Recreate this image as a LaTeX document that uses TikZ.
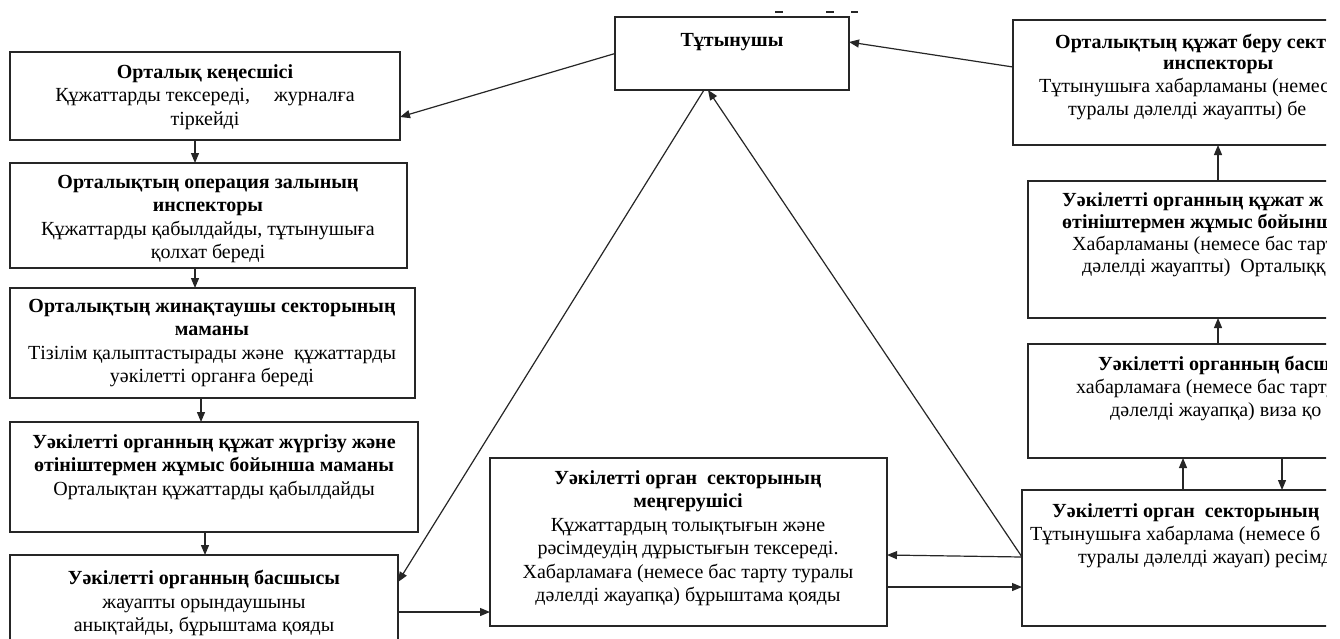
\documentclass[tikz,border=0pt]{standalone}
\usepackage{fontspec}
\setmainfont{Liberation Serif}
\usetikzlibrary{arrows.meta}
\begin{document}
\begin{tikzpicture}[x=1pt,y=-1pt,
  box/.style={draw=black!85, line width=1.5pt, inner sep=0pt, outer sep=0pt, anchor=north west},
  txt/.style={font=\fontsize{20}{23.5}\selectfont, align=center, inner sep=0pt, anchor=north},
  rtxt/.style={font=\fontsize{20}{23.5}\selectfont, inner sep=0pt, anchor=base west},
  arr/.style={draw=black!85, line width=1.2pt, -{Triangle[length=10pt,width=8pt]}},
  ln/.style={draw=black!85, line width=1.2pt}]
\useasboundingbox (0,0) rectangle (1340,638);
\fill[white] (0,0) rectangle (1340,638);
\clip (0,0) rectangle (1326,638);

% left column boxes
\node[box, minimum width=390pt, minimum height=88pt] (b1) at (10,52) {};
\node[box, minimum width=397pt, minimum height=105pt] (b2) at (10,163) {};
\node[box, minimum width=405pt, minimum height=110pt] (b3) at (10,288) {};
\node[box, minimum width=408pt, minimum height=110pt] (b4) at (10,422) {};
\node[box, minimum width=388pt, minimum height=110pt] (b5) at (10,555) {};
% top and centre
\node[box, minimum width=234pt, minimum height=73pt] (tut) at (615,17) {};
\node[box, minimum width=397pt, minimum height=168pt] (cen) at (490,458) {};
% right column
\node[box, minimum width=420pt, minimum height=125pt] (r1) at (1013,20) {};
\node[box, minimum width=420pt, minimum height=137pt] (r2) at (1028,181) {};
\node[box, minimum width=420pt, minimum height=114pt] (r3) at (1028,344) {};
\node[box, minimum width=420pt, minimum height=136pt] (r4) at (1022,490) {};

% texts
\node[txt] (t1) at (205,64) {\textbf{Орталық кеңесшісі}\\Құжаттарды тексереді,\hspace{1.2em}журналға\\тіркейді};
\node[txt] (t2) at (208,175) {\textbf{Орталықтың операция залының}\\\textbf{инспекторы}\\Құжаттарды қабылдайды, тұтынушыға\\қолхат береді};
\node[txt] (t3) at (212,299) {\textbf{Орталықтың жинақтаушы секторының}\\\textbf{маманы}\\Тізілім қалыптастырады және\ \ құжаттарды\\уәкілетті органға береді};
\node[txt] (t4) at (214,434) {\textbf{Уәкілетті органның құжат жүргізу және}\\\textbf{өтініштермен жұмыс бойынша маманы}\\Орталықтан құжаттарды қабылдайды};
\node[txt] (t5) at (204,570) {\textbf{Уәкілетті органның басшысы}\\жауапты орындаушыны\\анықтайды, бұрыштама қояды};
\node[txt] (tt) at (732,33) {\textbf{Тұтынушы}};
\node[txt] (tc) at (688,470) {\textbf{Уәкілетті орган\ \ секторының}\\\textbf{меңгерушісі}\\Құжаттардың толықтығын және\\рәсімдеудің дұрыстығын тексереді.\\Хабарламаға (немесе бас тарту туралы\\дәлелді жауапқа) бұрыштама қояды};

% right column texts (cut at the picture's edge)
\node[rtxt] (r1a) at (1055,48) {\textbf{Орталықтың құжат беру сект}};
\node[rtxt] (r1b) at (1163,69) {\textbf{инспекторы}};
\node[rtxt] (r1c) at (1039,92) {Тұтынушыға хабарламаны (немес};
\node[rtxt] (r1d) at (1068,115) {туралы дәлелді жауапты) бе};
\node[rtxt] (r2a) at (1062,206) {\textbf{Уәкілетті органның құжат ж}};
\node[rtxt] (r2b) at (1062,228) {\textbf{өтініштермен жұмыс бойынш}};
\node[rtxt] (r2c) at (1072,250) {Хабарламаны (немесе бас тарт};
\node[rtxt] (r2d) at (1082,272) {дәлелді жауапты)\ \ Орталыққ};
\node[rtxt] (r3a) at (1098,370) {\textbf{Уәкілетті органның басш}};
\node[rtxt] (r3b) at (1076,393) {хабарламаға (немесе бас тарту};
\node[rtxt] (r3c) at (1110,416) {дәлелді жауапқа) виза қо};
\node[rtxt] (r4a) at (1052,517) {\textbf{Уәкілетті орган\ \ секторының}};
\node[rtxt] (r4b) at (1030,540) {Тұтынушыға хабарлама (немесе б};
\node[rtxt] (r4c) at (1078,563) {туралы дәлелді жауап) ресімд};

% stray marks at the top
\coordinate (m1) at (775,12); \coordinate (m1e) at (783,12);
\coordinate (m2) at (826,12); \coordinate (m2e) at (834,12);
\coordinate (m3) at (851,12); \coordinate (m3e) at (858,12);
\draw[ln] (m1) -- (m1e);
\draw[ln] (m2) -- (m2e);
\draw[ln] (m3) -- (m3e);

% connectors
\draw[arr] (tut.west) -- ([yshift=-21pt]b1.east);
\draw[arr] ([yshift=15.5pt]r1.west) -- ([yshift=11.5pt]tut.east);
\draw[arr] (b1.south -| 195,0) -- (b2.north -| 195,0);
\draw[arr] (b2.south -| 195,0) -- (b3.north -| 195,0);
\draw[arr] (b3.south -| 201,0) -- (b4.north -| 201,0);
\draw[arr] (b4.south -| 205,0) -- (b5.north -| 205,0);
\draw[arr] (tut.south -| 704,0) -- (b5.east |- 0,582);
\draw[arr] (r4.west |- 0,557) -- (tut.south -| 708,0);
\draw[arr] (b5.east |- 0,612) -- (cen.west |- 0,612);
\draw[arr] (r4.west |- 0,557) -- (cen.east |- 0,555);
\draw[arr] (cen.east |- 0,587) -- (r4.west |- 0,587);
\draw[arr] (r4.north -| 1183,0) -- (r3.south -| 1183,0);
\draw[arr] (r3.south -| 1282,0) -- (r4.north -| 1282,0);
\draw[arr] (r3.north -| 1218,0) -- (r2.south -| 1218,0);
\draw[arr] (r2.north -| 1218,0) -- (r1.south -| 1218,0);
\end{tikzpicture}
\end{document}
